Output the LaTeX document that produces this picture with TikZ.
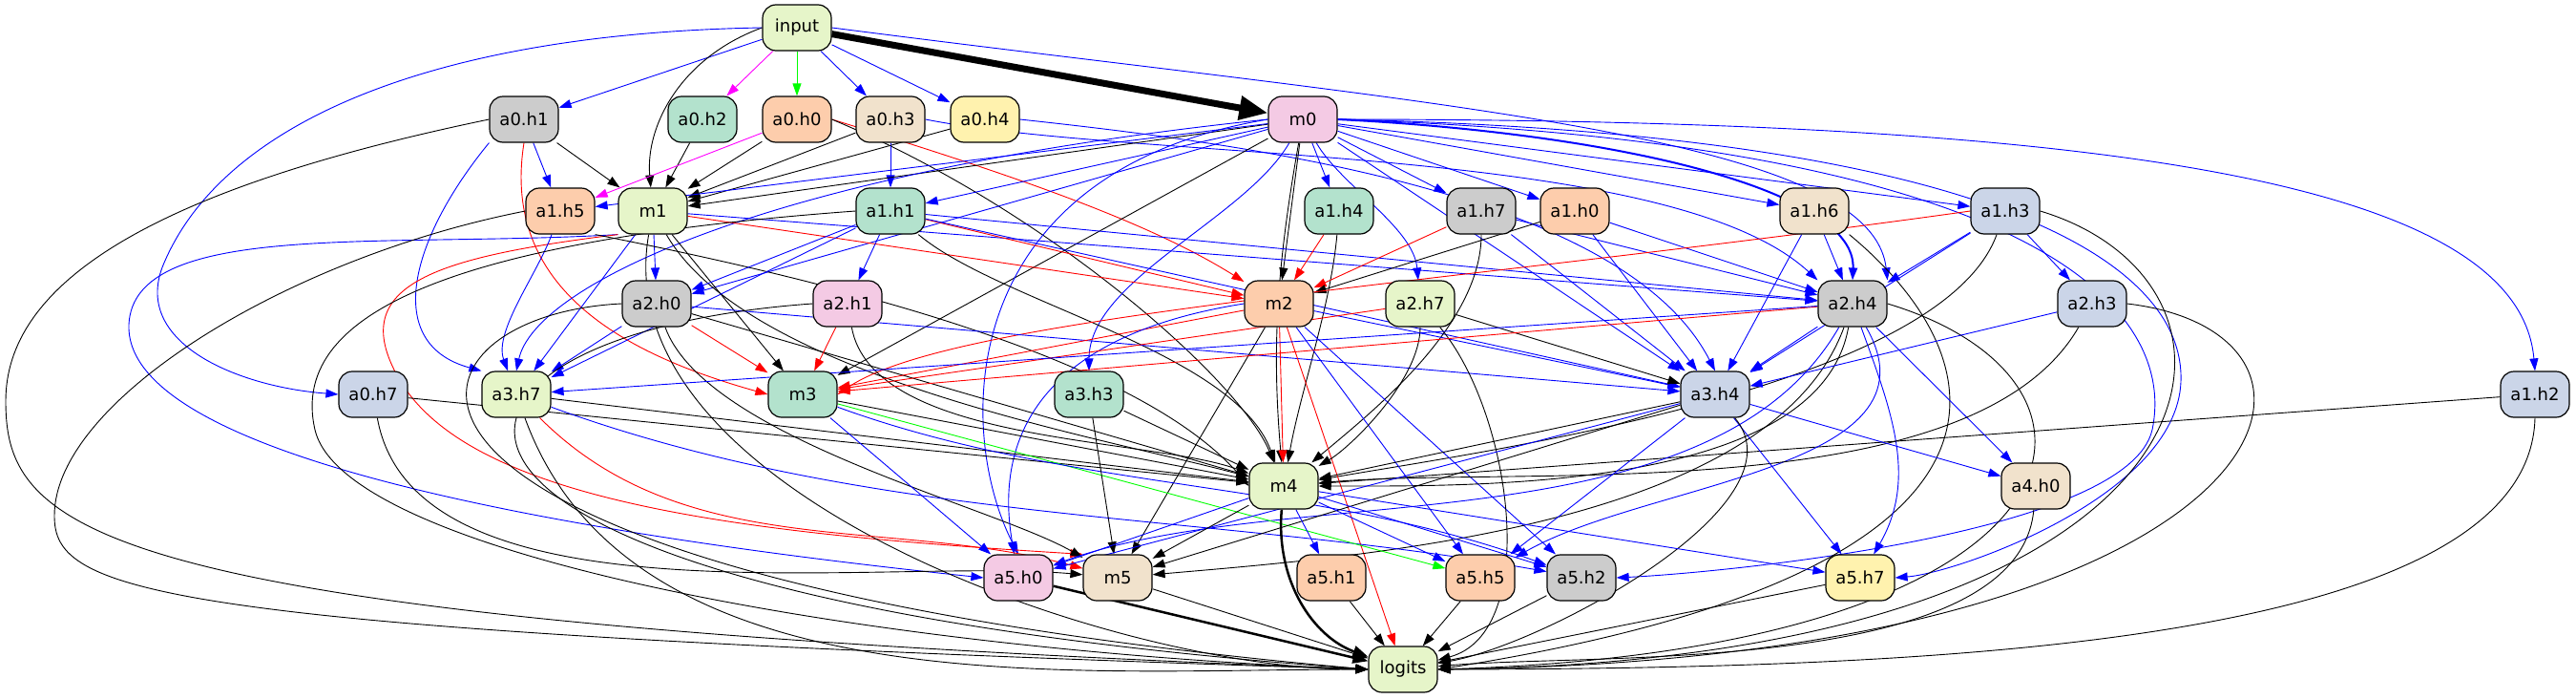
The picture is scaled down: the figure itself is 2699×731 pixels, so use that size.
\documentclass[tikz,border=0pt]{standalone}
\usepackage{fontspec}
\setmainfont{DejaVu Sans}
\usetikzlibrary{arrows.meta}
\definecolor{pA}{HTML}{B3E2CD}
\definecolor{pB}{HTML}{FDCDAC}
\definecolor{pC}{HTML}{CBD5E8}
\definecolor{pD}{HTML}{F4CAE4}
\definecolor{pE}{HTML}{E6F5C9}
\definecolor{pF}{HTML}{FFF2AE}
\definecolor{pG}{HTML}{F1E2CC}
\definecolor{pH}{HTML}{CCCCCC}
\definecolor{gvblue}{RGB}{0,0,255}
\definecolor{gvred}{RGB}{255,0,0}
\definecolor{gvgreen}{RGB}{0,255,0}
\definecolor{gvmag}{RGB}{255,0,255}
\pgfdeclarelayer{bg}
\pgfdeclarelayer{paper}
\pgfsetlayers{paper,bg,main}
\begin{document}
\begin{tikzpicture}[x=1pt,y=-1pt,
  nd/.style={draw=black, line width=1.2pt, rounded corners=14pt, minimum width=72pt,
     minimum height=48pt, inner xsep=10pt, font=\fontsize{18}{20}\selectfont},
  ed/.style={line width=0.9pt, -{Triangle[length=13pt,width=9pt]}},
  eb/.style={ed, draw=gvblue},
  er/.style={ed, draw=gvred},
  ek/.style={ed, draw=black},
  eg/.style={ed, draw=gvgreen},
  em/.style={ed, draw=gvmag},
  thick2/.style={line width=2.5pt, -{Triangle[length=16pt,width=12pt]}},
]
\useasboundingbox (0,0) rectangle (2699,731);
\begin{pgfonlayer}{paper}
\fill[white] (0,0) rectangle (2699,731);
\end{pgfonlayer}
% rank 0/1
\node[nd,fill=pE] (input) at (835,29) {input};
\node[nd,fill=pH] (a0h1) at (549,125) {a0.h1};
\node[nd,fill=pA] (a0h2) at (736,125) {a0.h2};
\node[nd,fill=pB] (a0h0) at (835,125) {a0.h0};
\node[nd,fill=pG] (a0h3) at (933,125) {a0.h3};
\node[nd,fill=pF] (a0h4) at (1032,125) {a0.h4};
\node[nd,fill=pD] (m0) at (1365,125) {m0};
% rank 2
\node[nd,fill=pB] (a1h5) at (587,221) {a1.h5};
\node[nd,fill=pE] (m1) at (684,221) {m1};
\node[nd,fill=pA] (a1h1) at (933,221) {a1.h1};
\node[nd,fill=pA] (a1h4) at (1403,221) {a1.h4};
\node[nd,fill=pH] (a1h7) at (1552,221) {a1.h7};
\node[nd,fill=pB] (a1h0) at (1650,221) {a1.h0};
\node[nd,fill=pG] (a1h6) at (1901,221) {a1.h6};
\node[nd,fill=pC] (a1h3) at (2101,221) {a1.h3};
% rank 3
\node[nd,fill=pH] (a2h0) at (688,318) {a2.h0};
\node[nd,fill=pD] (a2h1) at (888,318) {a2.h1};
\node[nd,fill=pB] (m2) at (1340,318) {m2};
\node[nd,fill=pE] (a2h7) at (1488,318) {a2.h7};
\node[nd,fill=pH] (a2h4) at (1941,318) {a2.h4};
\node[nd,fill=pC] (a2h3) at (2192,318) {a2.h3};
% rank 4
\node[nd,fill=pC] (a0h7) at (391,413) {a0.h7};
\node[nd,fill=pE] (a3h7) at (541,413) {a3.h7};
\node[nd,fill=pA] (m3) at (841,413) {m3};
\node[nd,fill=pA] (a3h3) at (1141,413) {a3.h3};
\node[nd,fill=pC] (a3h4) at (1797,413) {a3.h4};
\node[nd,fill=pC] (a1h2) at (2656,413) {a1.h2};
% rank 5
\node[nd,fill=pE] (m4) at (1345,509) {m4};
\node[nd,fill=pG] (a4h0) at (2133,509) {a4.h0};
% rank 6
\node[nd,fill=pD] (a5h0) at (1067,605) {a5.h0};
\node[nd,fill=pG] (m5) at (1171,605) {m5};
\node[nd,fill=pB] (a5h1) at (1395,605) {a5.h1};
\node[nd,fill=pB] (a5h5) at (1551,605) {a5.h5};
\node[nd,fill=pH] (a5h2) at (1657,605) {a5.h2};
\node[nd,fill=pF] (a5h7) at (1949,605) {a5.h7};
% rank 7
\node[nd,fill=pE] (logits) at (1470,701) {logits};

\begin{pgfonlayer}{bg}
% from input
\draw[ek, line width=7pt, -{Triangle[length=30pt,width=24pt]}] (input) -- (m0);
\draw[eb] (input) -- (a0h1);
\draw[em] (input) -- (a0h2);
\draw[eg] (input) -- (a0h0);
\draw[eb] (input) -- (a0h3);
\draw[eb] (input) -- (a0h4);
\draw[ek] (input.west) .. controls +(200:90pt) and +(95:90pt) .. (m1);
\draw[eb] (input.west) .. controls (450,35) and (230,130) .. (170,280) .. controls (140,360) and (250,405) .. (a0h7.west);
\draw[eb] (input.east) .. controls (1500,110) and (1960,140) .. (a2h4.north east);
% a0.h1
\draw[eb] (a0h1) -- (a1h5);
\draw[ek] (a0h1) -- (m1);
\draw[ek] (a0h1.west) .. controls (150,200) and (6,300) .. (6,420) .. controls (6,560) and (100,650) .. (logits.west);
\draw[er] (a0h1.south) .. controls (525,300) and (650,370) .. (m3.west);
\draw[eb] (a0h1.south west) .. controls (430,250) and (400,360) .. (a3h7.north west);
% a0.h2, a0.h0, a0.h3, a0.h4
\draw[ek] (a0h2) -- (m1);
\draw[em] (a0h0) -- (a1h5);
\draw[ek] (a0h0) -- (m1);
\draw[er] (a0h0.east) .. controls (1050,180) and (1200,230) .. (m2);
\draw[ek] (a0h0.east) .. controls (1100,220) and (1300,400) .. (m4);
\draw[ek] (a0h3) -- (m1);
\draw[eb] (a0h3) -- (a1h1);
\draw[eb] (a0h3.east) .. controls (1200,170) and (1750,150) .. (a2h4.north west);
\draw[ek] (a0h4) -- (m1);
\draw[eb] (a0h4.east) .. controls (1300,150) and (1700,200) .. (a3h4.north);
% m0
\draw[ek] (m0) -- (m1);
\draw[eb] (m0) -- (a1h5);
\draw[eb] (m0) -- (a1h1);
\draw[eb] (m0) -- (a1h4);
\draw[eb] (m0) -- (a1h7);
\draw[eb] (m0) -- (a1h0);
\draw[eb] (m0) -- (a1h6);
\draw[eb] (m0) -- (a1h3);
\draw[eb] (m0.east) .. controls +(0:800pt) and +(95:200pt) .. (a1h2.north);
\draw[ek] (m0) -- (m2);
\draw[eb] (m0) .. controls +(-60:80pt) and +(95:80pt) .. (a2h7);
\draw[eb, line width=2pt] (m0.east) .. controls (1700,140) and (1945,200) .. (a2h4.north);
\draw[eb] (m0) -- (a2h0);
\draw[ek] (m0) -- (m3);
\draw[eb] (m0) .. controls +(-120:120pt) and +(90:120pt) .. (a3h3);
\draw[ek] (m0) .. controls +(-100:150pt) and +(95:150pt) .. (m4);
\draw[eb] (m0.west) .. controls (1000,180) and (1000,450) .. (a5h0.north);
\draw[eb] (m0.west) .. controls (800,180) and (560,300) .. (a3h7.north);
\draw[eb] (m0) -- (a3h4);
\draw[eb] (m0.east) .. controls (2150,150) and (2280,330) .. (2255,450) .. controls (2230,560) and (1800,600) .. (a5h2.east);
\draw[eb] (m0.east) .. controls (2100,140) and (2290,280) .. (2285,400) .. controls (2280,520) and (2050,600) .. (a5h7.east);
% m1
\draw[eb] (m1) -- (a2h0);
\draw[er] (m1) -- (m2);
\draw[eb] (m1) -- (a2h4);
\draw[ek] (m1) -- (m3);
\draw[ek] (m1) .. controls +(-60:200pt) and +(165:200pt) .. (m4);
\draw[eb] (m1.south west) .. controls (400,260) and (140,230) .. (135,340) .. controls (130,480) and (600,560) .. (a5h0.west);
\draw[er] (m1.south west) .. controls (450,270) and (360,300) .. (420,400) .. controls (500,530) and (800,560) .. (m5.north west);
\draw[eb] (m1) -- (a3h7);
\draw[ek] (m1) .. controls +(-100:300pt) and +(180:300pt) .. (logits);
% a1.h5
\draw[ek] (a1h5.west) .. controls (300,270) and (57,420) .. (57,540) .. controls (57,620) and (150,660) .. (logits.west);
\draw[ek] (a1h5.south east) .. controls (900,300) and (1200,380) .. (m4.west);
\draw[eb] (a1h5) .. controls +(-110:70pt) and +(110:70pt) .. (a3h7);
% a1.h1
\draw[eb] (a1h1) -- (a2h1);
\draw[er] (a1h1) -- (m2);
\draw[eb] (a1h1) -- (a2h0);
\draw[eb] (a1h1) -- (a2h4);
\draw[eb] (a1h1) -- (a3h4);
\draw[ek] (a1h1) .. controls +(-40:150pt) and +(110:150pt) .. (m4);
\draw[ek] (a1h1.west) .. controls (500,250) and (300,320) .. (330,450) .. controls (360,580) and (900,680) .. (logits.west);
\draw[eb] (a1h1) -- (a3h7);
% a1.h4, a1.h7, a1.h0, a1.h6, a1.h3, a1.h2
\draw[er] (a1h4) -- (m2);
\draw[ek] (a1h4) .. controls +(-95:100pt) and +(80:100pt) .. (m4);
\draw[er] (a1h7) -- (m2);
\draw[ek] (a1h7) .. controls +(-90:120pt) and +(40:120pt) .. (m4);
\draw[eb] (a1h7) -- (a2h4);
\draw[eb] (a1h7) -- (a3h4);
\draw[ek] (a1h0) -- (m2);
\draw[eb] (a1h0) -- (a2h4);
\draw[eb] (a1h0) -- (a3h4);
\draw[eb] (a1h6) -- (a2h4);
\draw[eb] (a1h6) -- (a3h4);
\draw[ek] (a1h6.south east) .. controls (2100,380) and (2150,600) .. (logits.east);
\draw[eb] (a1h3) -- (a2h4);
\draw[eb] (a1h3) -- (a2h3);
\draw[er] (a1h3.west) .. controls (1500,300) and (1000,330) .. (m3.east);
\draw[eb] (a1h3) -- (a3h4);
\draw[ek] (a1h3) .. controls +(-110:200pt) and +(10:200pt) .. (m4);
\draw[ek] (a1h3.east) .. controls (2400,300) and (2350,690) .. (logits.east);
\draw[ek] (a1h2) -- (m4);
\draw[ek] (a1h2.south) .. controls (2650,680) and (2000,700) .. (logits.east);
% rank 3 sources
\draw[er] (a2h0) -- (m3);
\draw[eb] (a2h0) -- (a3h7);
\draw[eb] (a2h0) -- (a3h4);
\draw[ek] (a2h0) -- (m4);
\draw[ek] (a2h0) .. controls +(-70:150pt) and +(150:150pt) .. (m5);
\draw[ek] (a2h0.west) .. controls (400,330) and (300,600) .. (logits.west);
\draw[er] (a2h1) -- (m3);
\draw[ek] (a2h1) .. controls +(-80:150pt) and +(160:150pt) .. (m4);
\draw[ek] (a2h1.west) .. controls (400,350) and (320,620) .. (logits.west);
\draw[er] (m2) -- (m3);
\draw[er] (m2) -- (m4);
\draw[er] (m2) -- (logits);
\draw[ek] (m2) -- (m5);
\draw[eb] (m2.west) .. controls (1100,350) and (1040,450) .. (a5h0);
\draw[eb] (m2) -- (a3h4);
\draw[eb] (m2) -- (a5h5);
\draw[eb] (m2) -- (a5h2);
\draw[er] (a2h7) -- (m3);
\draw[ek] (a2h7) .. controls +(-90:80pt) and +(30:80pt) .. (m4);
\draw[ek] (a2h7) -- (a3h4);
\draw[ek] (a2h7) .. controls +(-50:150pt) and +(15:150pt) .. (logits);
\draw[er] (a2h4) -- (m3);
\draw[eb] (a2h4) -- (a3h7);
\draw[eb] (a2h4) -- (a3h4);
\draw[ek] (a2h4) .. controls +(-100:200pt) and +(0:200pt) .. (m4);
\draw[ek] (a2h4) .. controls +(-110:250pt) and +(5:250pt) .. (m5);
\draw[eb] (a2h4) .. controls +(-120:300pt) and +(20:300pt) .. (a5h0);
\draw[eb] (a2h4) .. controls +(-60:200pt) and +(30:200pt) .. (a5h5);
\draw[eb] (a2h4) .. controls +(-70:120pt) and +(60:120pt) .. (a5h7);
\draw[eb] (a2h4) -- (a4h0);
\draw[ek] (a2h4.east) .. controls (2250,400) and (2200,680) .. (logits.east);
\draw[eb] (a2h3) -- (a3h4);
\draw[ek] (a2h3) .. controls +(-120:250pt) and +(5:250pt) .. (m4);
\draw[ek] (a2h3.east) .. controls (2500,350) and (2400,690) .. (logits.east);
% rank 4 sources
\draw[ek] (a0h7) -- (m4);
\draw[ek] (a0h7) .. controls +(-80:250pt) and +(175:250pt) .. (m5);
\draw[ek] (a3h7) -- (m4);
\draw[er] (a3h7) .. controls +(-45:250pt) and +(165:250pt) .. (m5);
\draw[eb] (a3h7) .. controls +(-20:400pt) and +(170:400pt) .. (a5h2);
\draw[ek] (a3h7) .. controls +(-70:350pt) and +(180:350pt) .. (logits);
\draw[ek] (m3) -- (m4);
\draw[eb] (m3) -- (a5h0);
\draw[eg] (m3) -- (a5h5);
\draw[eb] (m3) .. controls +(-20:300pt) and +(160:300pt) .. (a5h2);
\draw[ek] (a3h3) -- (m4);
\draw[ek] (a3h3) -- (m5);
\draw[ek] (a3h4) -- (m4);
\draw[eb] (a3h4) -- (a4h0);
\draw[eb] (a3h4) -- (a5h7);
\draw[eb] (a3h4) -- (a5h0);
\draw[eb] (a3h4) -- (a5h5);
\draw[ek] (a3h4) -- (m5);
\draw[ek] (a3h4) .. controls +(-50:150pt) and +(10:150pt) .. (logits);
% m4, a4.h0
\draw[ek, thick2] (m4) .. controls +(-95:100pt) and +(160:100pt) .. (logits);
\draw[eb] (m4) -- (a5h0);
\draw[ek] (m4) -- (m5);
\draw[eb] (m4) -- (a5h1);
\draw[eb] (m4) -- (a5h5);
\draw[eb] (m4) -- (a5h2);
\draw[eb] (m4) -- (a5h7);
\draw[ek] (a4h0) .. controls +(-95:200pt) and +(5:200pt) .. (logits);
% rank 6
\draw[ek, thick2] (a5h0) -- (logits);
\draw[ek] (m5) -- (logits);
\draw[ek] (a5h1) -- (logits);
\draw[ek] (a5h5) -- (logits);
\draw[ek] (a5h2) -- (logits);
\draw[ek] (a5h7) -- (logits);
\end{pgfonlayer}
\end{tikzpicture}
\end{document}
